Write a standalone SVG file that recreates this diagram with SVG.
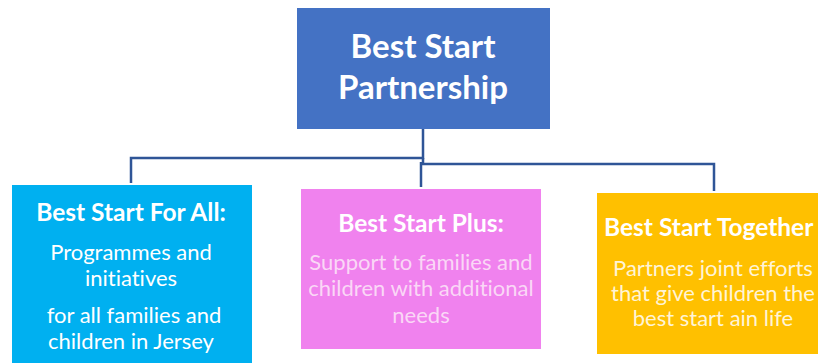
<svg xmlns="http://www.w3.org/2000/svg" width="818" height="363" viewBox="0 0 818 363">
<style>
text{font-family:Lato,"Open Sans","Liberation Sans",sans-serif;text-anchor:middle;font-variant-ligatures:none}
.h{font-weight:bold;fill:#fff}
.top{font-size:33px}
.t{font-size:24.5px}
.b{font-size:22px}
.conn{fill:none;stroke:#2F5597;stroke-width:2.5}
</style>
<rect width="818" height="363" fill="#fff"/>
<g id="connectors">
<polyline class="conn" points="423,129 423,158 131,158 131,183"/>
<polyline class="conn" points="423,158 423,164 714,164 714,191"/>
<polyline class="conn" points="421,162 421,187"/>
</g>
<g id="partnership">
<rect x="297" y="8" width="253" height="121" fill="#4472C4"/>
<text class="h top" x="423" y="58">Best Start</text>
<text class="h top" x="423" y="99">Partnership</text>
</g>
<g id="for-all">
<rect x="12" y="185" width="240" height="180" fill="#00B0F0"/>
<text class="h t" x="131" y="221">Best Start For All:</text>
<text class="b" x="131" y="260" fill="#fff">Programmes and</text>
<text class="b" x="131" y="286" fill="#fff">initiatives</text>
<text class="b" x="134" y="323" fill="#fff">for all families and</text>
<text class="b" x="131" y="349" fill="#fff">children in Jersey</text>
</g>
<g id="plus">
<rect x="301" y="189" width="240" height="160" fill="#F082EE"/>
<text class="h t" x="421" y="232">Best Start Plus:</text>
<text class="b" x="421" y="270" fill="#FAD7F6">Support to families and</text>
<text class="b" x="421" y="296" fill="#FAD7F6">children with additional</text>
<text class="b" x="421" y="323" fill="#FAD7F6">needs</text>
</g>
<g id="together">
<rect x="597" y="193" width="240" height="161" fill="#FFC000"/>
<text class="h t" x="604" y="236" style="text-anchor:start">Best Start Together</text>
<text class="b" x="713" y="276" fill="#FFF4D6">Partners joint efforts</text>
<text class="b" x="713" y="301" fill="#FFF4D6">that give children the</text>
<text class="b" x="713" y="326" fill="#FFF4D6">best start ain life</text>
</g>
</svg>
